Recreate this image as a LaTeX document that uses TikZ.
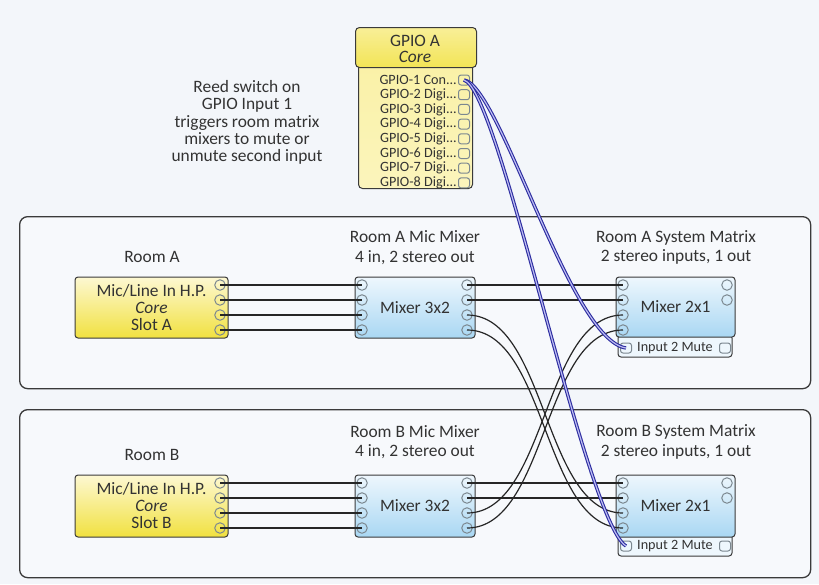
\documentclass[tikz,border=0pt]{standalone}
\usepackage{fontspec}
\setmainfont{Carlito}
\definecolor{bgout}{HTML}{F3F6FA}
\definecolor{bgin}{HTML}{F7F9FC}
\definecolor{frame}{HTML}{3A3A3A}
\definecolor{ytop}{HTML}{FDF8D2}
\definecolor{ybot}{HTML}{F1E140}
\definecolor{btop}{HTML}{EEF7FD}
\definecolor{bbot}{HTML}{A9D7F3}
\definecolor{portc}{HTML}{7C8890}
\definecolor{wireblue}{HTML}{2C2CA0}
\definecolor{wirebluein}{HTML}{BDBDF2}
\definecolor{txt}{HTML}{333333}
\begin{document}
\begin{tikzpicture}[x=1pt,y=-1pt,
  roombox/.style={draw=frame, line width=1.3pt, rounded corners=8pt, fill=bgin, inner sep=0pt, anchor=north west},
  ybox/.style={draw=frame, line width=1pt, rounded corners=3pt, top color=ytop, bottom color=ybot, inner sep=0pt, align=center, text=txt, font=\fontsize{17.4}{17}\selectfont},
  bbox/.style={draw=frame, line width=1pt, rounded corners=3pt, top color=btop, bottom color=bbot, inner sep=0pt, align=center, text=txt, font=\fontsize{17.4}{17}\selectfont},
  mutebar/.style={draw=frame, line width=1pt, rounded corners=3pt, fill=btop, inner sep=0pt},
  port/.style={circle, draw=portc, line width=1pt, minimum size=10.5pt, inner sep=0pt},
  sqport/.style={rectangle, rounded corners=2.5pt, draw=portc, line width=1pt, minimum width=11pt, minimum height=10pt, inner sep=0pt},
  label/.style={align=center, text=txt, font=\fontsize{17.4}{19.5}\selectfont, inner sep=0pt},
  gplabel/.style={anchor=east, text=txt, font=\fontsize{14.2}{14}\selectfont, inner sep=0pt},
  wire/.style={draw=black!85, line width=1.2pt},
  bwire/.style={draw=wireblue, line width=1.1pt, double=wirebluein, double distance=1.2pt}
]
\fill[bgout] (0,0) rectangle (819,584);
\useasboundingbox (0,0) rectangle (819,584);

% room frames
\node[roombox, minimum width=791pt, minimum height=172pt] (roomA) at (19,216) {};
\node[roombox, minimum width=791pt, minimum height=168pt] (roomB) at (19,409) {};

% GPIO block
\node[draw=frame, line width=1pt, rounded corners=4pt, top color=ytop!70!ybot, bottom color=ytop!85!ybot, minimum width=114pt, minimum height=130pt, inner sep=0pt, anchor=north west] (gpiobody) at (358,58) {};
\node[draw=frame, line width=1pt, rounded corners=4pt, top color=ytop!60!ybot, bottom color=ybot!85!ytop, minimum width=121pt, minimum height=40pt, inner sep=0pt, anchor=north west] (gpiohead) at (355,27) {};
\node[label, font=\fontsize{17.4}{16}\selectfont] (gpiotitle) at (415,49) {GPIO A\\\textit{Core}};
\foreach \i/\t in {1/Con,2/Digi,3/Digi,4/Digi,5/Digi,6/Digi,7/Digi,8/Digi}{
  \node[sqport] (gp\i) at (464,{80+14.7*(\i-1)}) {};
  \node[gplabel] (gpl\i) at (457,{80+14.7*(\i-1)}) {GPIO-\i\ \t...};
}

% note
\node[label, font=\fontsize{17.4}{17.3}\selectfont] (note) at (247,122.5) {Reed switch on\\GPIO Input 1\\triggers room matrix\\mixers to mute or\\unmute second input};

% Room labels
\node[label] (labA) at (152,257) {Room A};
\node[label] (labB) at (152,455) {Room B};
\node[label] (mixtA) at (415,247.5) {Room A Mic Mixer\\4 in, 2 stereo out};
\node[label] (mattA) at (676,247.5) {Room A System Matrix\\2 stereo inputs, 1 out};
\node[label] (mixtB) at (415,442) {Room B Mic Mixer\\4 in, 2 stereo out};
\node[label] (mattB) at (676,442) {Room B System Matrix\\2 stereo inputs, 1 out};

% Room A blocks
\node[ybox, minimum width=153pt, minimum height=61pt] (inA) at (151.5,307.5) {Mic/Line In H.P.\\\textit{Core}\\Slot A};
\node[bbox, minimum width=120pt, minimum height=61pt] (mixA) at (415,307.5) {Mixer 3x2};
\node[mutebar, minimum width=114pt, minimum height=22pt] (muteA) at (675,346) {};
\node[bbox, minimum width=119pt, minimum height=60pt] (matA) at (675.5,307) {Mixer 2x1};
\node[text=txt, font=\fontsize{14.2}{14}\selectfont, inner sep=0pt] (muteAt) at (675,348) {Input 2 Mute};
\node[sqport] (mAq) at (626,348) {};
\node[sqport] (mAr) at (725,348) {};

% Room B blocks
\node[ybox, minimum width=153pt, minimum height=62pt] (inB) at (151.5,506) {Mic/Line In H.P.\\\textit{Core}\\Slot B};
\node[bbox, minimum width=120pt, minimum height=62pt] (mixB) at (415,506) {Mixer 3x2};
\node[mutebar, minimum width=114pt, minimum height=22pt] (muteB) at (675,545) {};
\node[bbox, minimum width=119pt, minimum height=62pt] (matB) at (675.5,506) {Mixer 2x1};
\node[text=txt, font=\fontsize{14.2}{14}\selectfont, inner sep=0pt] (muteBt) at (675,546) {Input 2 Mute};
\node[sqport] (mBq) at (626,546) {};
\node[sqport] (mBr) at (725,546) {};

% ports
\foreach \i/\ya/\yb in {1/285/483,2/300/498,3/315/513,4/330/528}{
  \node[port] (yA\i) at (220,\ya) {};
  \node[port] (miA\i) at (362,\ya) {};
  \node[port] (moA\i) at (467,\ya) {};
  \node[port] (xiA\i) at (623,\ya) {};
  \node[port] (yB\i) at (220,\yb) {};
  \node[port] (miB\i) at (362,\yb) {};
  \node[port] (moB\i) at (467,\yb) {};
  \node[port] (xiB\i) at (623,\yb) {};
}
\foreach \i/\ya/\yb in {1/285/483,2/300/498}{
  \node[port] (xoA\i) at (727,\ya) {};
  \node[port] (xoB\i) at (727,\yb) {};
}

% wires
\foreach \i in {1,2,3,4}{
  \draw[wire] (yA\i.center) -- (miA\i.center);
  \draw[wire] (yB\i.center) -- (miB\i.center);
}
\foreach \i in {1,2}{
  \draw[wire] (moA\i.center) -- (xiA\i.center);
  \draw[wire] (moB\i.center) -- (xiB\i.center);
}
\foreach \i in {3,4}{
  \draw[wire] (moA\i.center) .. controls +(80,0) and +(-80,0) .. (xiB\i.center);
  \draw[wire] (moB\i.center) .. controls +(80,0) and +(-80,0) .. (xiA\i.center);
}

% GPIO control wires
\draw[bwire] (gp1.center) .. controls +(36,5) and +(-56,-8) .. (mAq.center);
\draw[bwire] (gp1.center) .. controls +(36,10) and +(-41,-26) .. (mBq.center);
\end{tikzpicture}
\end{document}
